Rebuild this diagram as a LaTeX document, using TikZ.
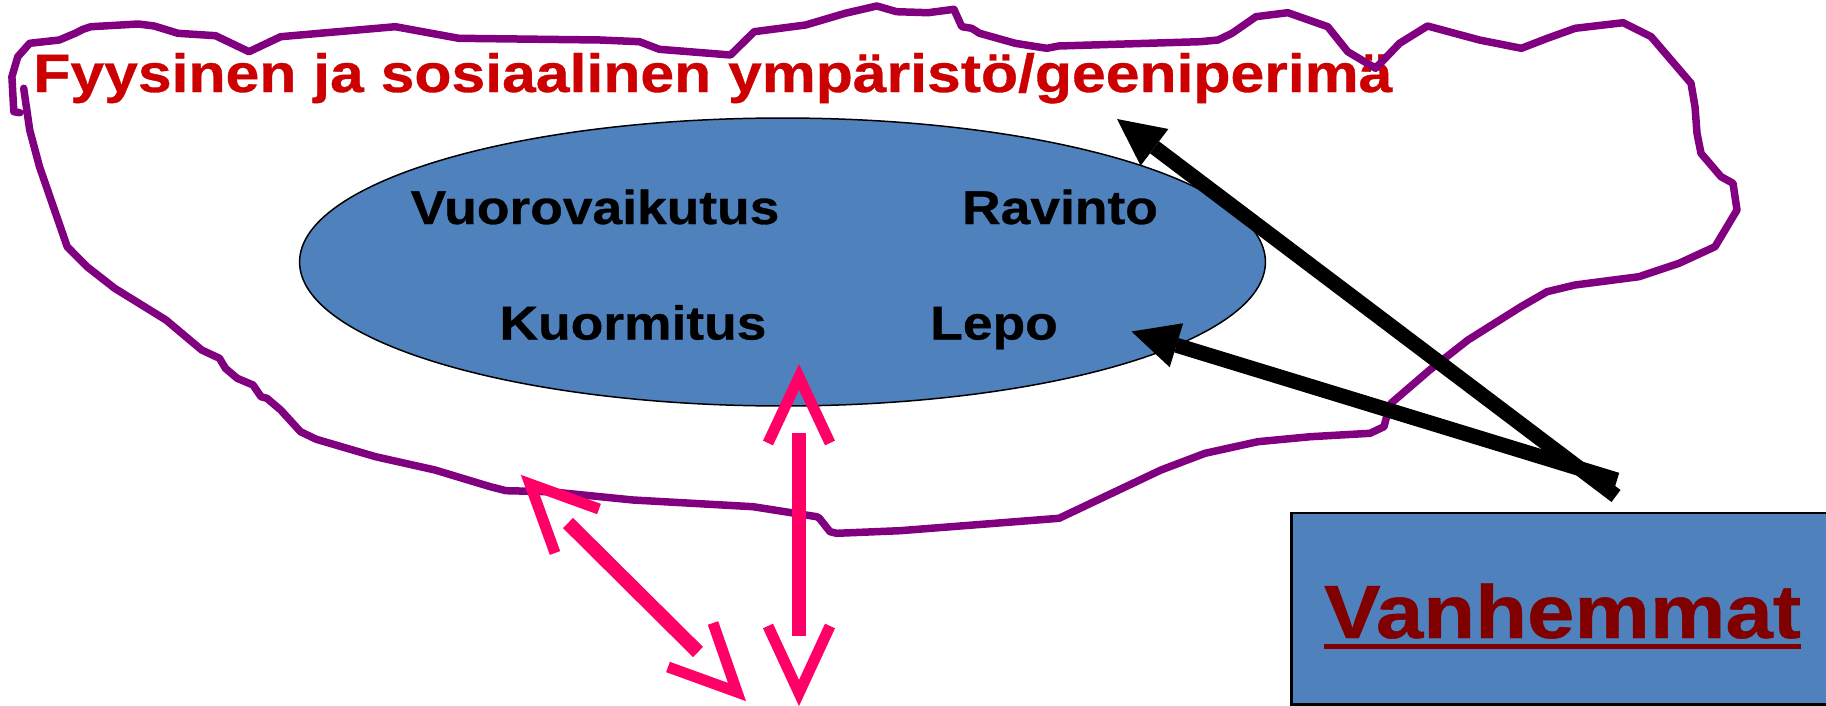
\documentclass[tikz,border=0pt]{standalone}
\usepackage{graphicx}
\usepackage{fontspec}
\setmainfont{Liberation Sans}[BoldFeatures={FakeBold=0.6}]
\usetikzlibrary{arrows.meta,shapes.geometric}
\definecolor{ellblue}{HTML}{4F81BD}
\definecolor{outpurple}{HTML}{800080}
\definecolor{pinkarrow}{HTML}{FF0066}
\definecolor{titlered}{HTML}{CC0000}
\definecolor{darkred}{HTML}{800000}
\newcommand{\xstretch}[1]{\scalebox{1.125}[1]{#1}}
\begin{document}
\begin{tikzpicture}[x=0.02cm,y=-0.02cm,
  titletxt/.style={font=\bfseries\fontsize{30.7}{34}\selectfont, text=titlered, anchor=base west, inner sep=0pt},
  elltxt/.style={font=\bfseries\fontsize{27}{30}\selectfont, text=black, anchor=base, inner sep=0pt},
  parenttxt/.style={font=\bfseries\fontsize{43}{48}\selectfont, text=darkred, anchor=base, inner sep=0pt},
  envoutline/.style={draw=outpurple, line width=0.15cm, line join=round, line cap=round},
  pinkshaft/.style={draw=pinkarrow, line width=0.285cm},
  pinkhead/.style={draw=pinkarrow, line width=0.22cm, line join=miter},
  blackarrow/.style={draw=black, line width=0.3cm, -{Triangle[length=0.94cm,width=0.92cm,line width=0pt]}},
  blueshape/.style={draw=black, fill=ellblue}
]
\useasboundingbox (0,0) rectangle (1826,706);

% central ellipse
\node (care) [blueshape, line width=0.03cm, ellipse, inner sep=0pt,
  minimum width=19.32cm, minimum height=5.76cm] at (782.5,262) {};

% ellipse texts
\node (vuoro) [elltxt] at (595,224) {\xstretch{Vuorovaikutus}};
\node (ravinto) [elltxt] at (1060,224) {\xstretch{Ravinto}};
\node (kuorm) [elltxt] at (633,339.5) {\xstretch{Kuormitus}};
\node (lepo) [elltxt] at (994,339.5) {\xstretch{Lepo}};

% title
\node (title) [titletxt] at (33,92) {\xstretch{Fyysinen ja sosiaalinen ympäristö/geeniperimä}};

% environment outline
\draw[envoutline] (19.8,112.7) -- (13.8,111.7) -- (11.9,76.7) -- (17.8,56.7) -- (29.7,43.3)
  -- (59.3,40) -- (75.1,33.3) -- (83,29.3) -- (91,26.7) -- (138.4,24) -- (154.2,26)
  -- (178,33.3) -- (215.5,35.7) -- (249,51.7) -- (280.7,36.7) -- (395.4,26.7)
  -- (458.7,38.3) -- (600,40) -- (639.5,41.7) -- (659.3,49.3) -- (730.5,55)
  -- (754.2,31.7) -- (805.6,25) -- (845.2,13.3) -- (876.8,6) -- (896.6,11.7)
  -- (928.2,12.7) -- (953.9,9.3) -- (961.8,26.7) -- (971.7,28.3) -- (979.6,33.3)
  -- (1015.2,43.3) -- (1046.8,48.3) -- (1058.7,46) -- (1200,41.7) -- (1218,40)
  -- (1232,33.3) -- (1255.9,16.7) -- (1287.8,12.7) -- (1327.7,26.7) -- (1347.7,51.7)
  -- (1375.6,68.3) -- (1399.6,43.3) -- (1427.5,26) -- (1479.4,40) -- (1521.4,48.3)
  -- (1547.3,38.3) -- (1575.2,28.3) -- (1623.2,22.7) -- (1651.1,36.7) -- (1691,83.3)
  -- (1695,106.7) -- (1697,133.3) -- (1701,153.3) -- (1721,176.7) -- (1733,183.3)
  -- (1737,210) -- (1715,246.7) -- (1679,263.3) -- (1639,276.7) -- (1575,285)
  -- (1547,291.7) -- (1521,306.7) -- (1468,340) -- (1429.7,370) -- (1391,403.3)
  -- (1385.7,420) -- (1384,426.7) -- (1370,433.3) -- (1310.5,436.7) -- (1257.8,441.7)
  -- (1205,453.3) -- (1161,470) -- (1059,518.3) -- (900,530.7) -- (836.7,533.3)
  -- (830,531.7) -- (819.4,518.3) -- (816.7,516.7) -- (753,506.7) -- (633,500)
  -- (550,491.7) -- (506,490.7) -- (490.3,486.7) -- (435,470) -- (375.6,456.7)
  -- (316.3,439.3) -- (300.5,431.7) -- (280.7,410) -- (266.9,398.3) -- (261,396.7)
  -- (253,385) -- (237.2,378.3) -- (225.4,368.3) -- (219.5,358.3) -- (201.7,350)
  -- (166,320) -- (114.7,288.3) -- (87,266.7) -- (67.2,246.7) -- (39.5,166.7)
  -- (29.7,130) -- (23.7,88.3);

% parents box
\node (parents) [blueshape, line width=0.055cm, anchor=north west, inner sep=0pt,
  minimum width=11cm, minimum height=3.84cm] at (1290,511.5) {};
\node (vanh) [parenttxt] at (1562.5,638) {\xstretch{Vanhemmat}};
\draw[darkred, line width=0.1cm] ([yshift=-0.17cm]vanh.base west) -- ([yshift=-0.17cm]vanh.base east);

% black arrows from parents
\coordinate (tail1) at (1616,496);
\coordinate (tip1) at (1117,119);
\coordinate (tail2) at (1617,480);
\coordinate (tip2) at (1131.5,331.5);
\draw[blackarrow] (tail1) -- (tip1);
\draw[blackarrow] (tail2) -- (tip2);

% pink vertical double arrow
\coordinate (vt) at (799,377);
\coordinate (vb) at (799,693);
\coordinate (vs1) at (799,433);
\coordinate (vs2) at (799,636);
\draw[pinkshaft] (vs1) -- (vs2);
\draw[pinkhead] (768,443) -- (vt) -- (830,443);
\draw[pinkhead] (768,626) -- (vb) -- (830,626);

% pink diagonal double arrow
\coordinate (da) at (530,484);
\coordinate (db) at (737,692);
\coordinate (ds1) at (568,523);
\coordinate (ds2) at (698,652);
\draw[pinkshaft] (ds1) -- (ds2);
\draw[pinkhead] (555,553) -- (da) -- (599,509);
\draw[pinkhead] (713,623) -- (db) -- (668,667);
\end{tikzpicture}
\end{document}
